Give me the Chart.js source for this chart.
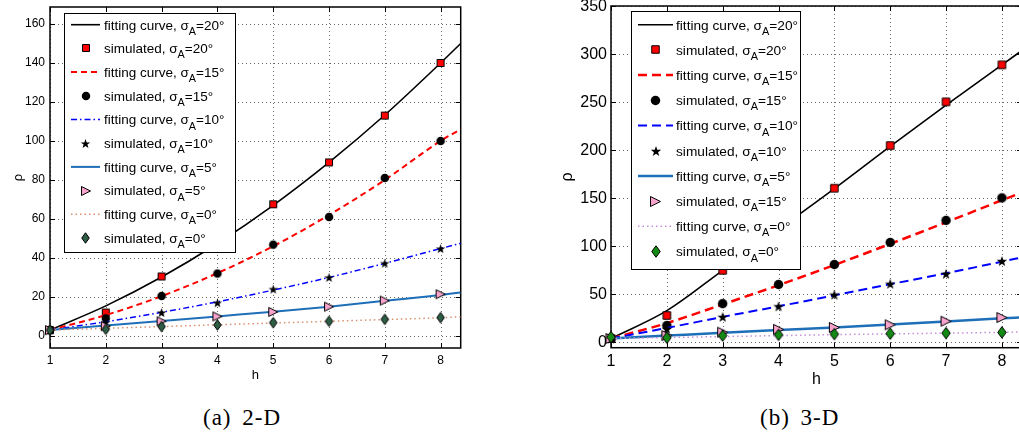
<!DOCTYPE html>
<html>
<head>
<meta charset="utf-8">
<script src="https://cdn.jsdelivr.net/npm/chart.js@4.4.1/dist/chart.umd.min.js"></script>
<style>
  html, body { margin: 0; padding: 0; background: #fff; width: 1019px; height: 442px; overflow: hidden; }
  canvas { position: absolute; top: 0; }
  #chart2d { left: 0; }
  #chart3d { left: 530px; }
  .caption { position: absolute; top: 406px; font-family: "Liberation Serif", serif; font-size: 23px;
             line-height: 23px; letter-spacing: 1px; word-spacing: 4px; color: #000; white-space: nowrap; }
</style>
</head>
<body>
<canvas id="chart2d" width="480" height="390"></canvas>
<canvas id="chart3d" width="520" height="390"></canvas>
<div class="caption" style="left:203px">(a) 2-D</div>
<div class="caption" style="left:760px">(b) 3-D</div>
<script>
// ---- shared axes ----
const hSim = [1, 2, 3, 4, 5, 6, 7, 8];
const hFit = [1, 2, 3, 4, 5, 6, 7, 8, 8.36];
const xTicks = [1, 2, 3, 4, 5, 6, 7, 8];
const yTicks2D = [0, 20, 40, 60, 80, 100, 120, 140, 160];
const yTicks3D = [0, 50, 100, 150, 200, 250, 300, 350];

// legend texts (right panel really says 15° for the triangles)
const legendPrefix = ['fitting curve, σ', 'simulated, σ'];
const angles2D = ['20°', '20°', '15°', '15°', '10°', '10°', '5°', '5°', '0°', '0°'];
const angles3D = ['20°', '20°', '15°', '15°', '10°', '10°', '5°', '15°', '0°', '0°'];

// ---- (a) 2-D ----
const fit2D_20 = [3, 15.4, 30.2, 47.4, 67, 89, 113.3, 140, 150];
const sim2D_20 = [3, 12, 30.5, 47, 67.5, 89, 113, 140];
const fit2D_15 = [3, 10.7, 20.4, 32.2, 46, 62, 80, 100, 106];
const sim2D_15 = [3, 9, 20.5, 32, 46.8, 61, 81, 100];
const fit2D_10 = [3, 7.3, 12.1, 17.5, 23.5, 30, 37.2, 44.8, 47.5];
const sim2D_10 = [3, 7, 12, 17, 24, 30, 37.3, 44.8];
const fit2D_5 = [3, 5.3, 7.6, 10, 12.4, 15, 18, 21, 22.3];
const sim2D_5 = [3, 5, 7.5, 10, 12.3, 15, 18.1, 21.4];
const fit2D_0 = [3, 3.9, 4.8, 5.7, 6.6, 7.5, 8.4, 9.3, 9.8];
const sim2D_0 = [3, 3.4, 4.8, 5.6, 6.8, 7.5, 8.5, 9.4];

// ---- (b) 3-D ----
const fit3D_20 = [4, 33, 75, 117.5, 160, 204, 247, 289, 304];
const sim3D_20 = [4, 28, 75, 118, 160.5, 205, 250.5, 289];
const fit3D_15 = [4, 20, 39.5, 59.5, 80.5, 102.5, 125, 148, 156];
const sim3D_15 = [4, 17.5, 40.3, 60.2, 81, 104, 127, 150.4];
const fit3D_10 = [4, 15, 26.5, 37.5, 49, 60.5, 72, 84, 88.5];
const sim3D_10 = [4, 14, 26.5, 37.5, 49.6, 61, 71.3, 84.7];
const fit3D_5 = [4, 7, 10, 12.8, 15.5, 18.5, 21.8, 25, 26];
const sim3D_5 = [4, 7, 10.5, 13.5, 15.5, 18.3, 22, 25.8];
const fit3D_0 = [4, 5, 6, 7, 8, 8.8, 9.6, 10.4, 10.8];
const sim3D_0 = [5.5, 4.8, 7, 7.8, 8.6, 9, 9.6, 10.3];

// small canvases used as point styles (filled star / diamond etc.)
function makeMarker(kind, w, h, fill, stroke) {
  const c = document.createElement('canvas');
  c.width = Math.ceil(w) + 3;
  c.height = Math.ceil(h) + 3;
  const g = c.getContext('2d');
  const cx = c.width / 2, cy = c.height / 2;
  g.beginPath();
  if (kind === 'square') {
    g.rect(cx - w / 2, cy - h / 2, w, h);
  } else if (kind === 'circle') {
    g.arc(cx, cy, w / 2, 0, Math.PI * 2);
  } else if (kind === 'diamond') {
    g.moveTo(cx, cy - h / 2); g.lineTo(cx + w / 2, cy); g.lineTo(cx, cy + h / 2); g.lineTo(cx - w / 2, cy);
    g.closePath();
  } else if (kind === 'triangle') {
    g.moveTo(cx + w / 2, cy); g.lineTo(cx - w / 2, cy - h / 2); g.lineTo(cx - w / 2, cy + h / 2);
    g.closePath();
  } else if (kind === 'star') {
    for (let i = 0; i < 10; i++) {
      const r = i % 2 ? w / 2 * 0.4 : w / 2;
      const a = -Math.PI / 2 + i * Math.PI / 5;
      const px = cx + r * Math.cos(a), py = cy + 0.5 + r * Math.sin(a);
      if (i) g.lineTo(px, py); else g.moveTo(px, py);
    }
    g.closePath();
  }
  g.fillStyle = fill;
  g.fill();
  if (stroke) { g.lineWidth = 1; g.strokeStyle = stroke; g.stroke(); }
  return c;
}

function curve(ys, color, width, dash, order) {
  return {
    data: hFit.map((h, i) => ({ x: h, y: ys[i] })),
    showLine: true,
    borderColor: color,
    borderWidth: width,
    borderDash: dash,
    pointRadius: 0,
    cubicInterpolationMode: 'monotone',
    order: order
  };
}

function markers(ys, img, order) {
  return {
    data: hSim.map((h, i) => ({ x: h, y: ys[i] })),
    showLine: false,
    pointStyle: img,
    pointRadius: 5,
    clip: false,
    order: order
  };
}

// MATLAB-look: dotted grid, boxed frame with inward ticks, axis titles, boxed legend
const matlabAxes = {
  id: 'matlabAxes',
  beforeDatasetsDraw(chart, args, opts) {
    const { ctx, chartArea: a, scales: { x, y } } = chart;
    ctx.save();
    ctx.strokeStyle = 'rgba(0,0,0,0.6)';
    ctx.lineWidth = 1;
    ctx.setLineDash([1, 3]);
    x.ticks.forEach(t => {
      const px = Math.round(x.getPixelForValue(t.value)) + 0.5;
      ctx.beginPath(); ctx.moveTo(px, a.top); ctx.lineTo(px, a.bottom); ctx.stroke();
    });
    y.ticks.forEach(t => {
      const py = Math.round(y.getPixelForValue(t.value)) + 0.5;
      ctx.beginPath(); ctx.moveTo(a.left, py); ctx.lineTo(a.right, py); ctx.stroke();
    });
    ctx.setLineDash([]);
    ctx.strokeStyle = '#000';
    ctx.lineWidth = 1;
    const tl = opts.tickLen;
    x.ticks.forEach(t => {
      const px = Math.round(x.getPixelForValue(t.value)) + 0.5;
      ctx.beginPath();
      ctx.moveTo(px, a.bottom); ctx.lineTo(px, a.bottom - tl);
      ctx.moveTo(px, a.top); ctx.lineTo(px, a.top + tl);
      ctx.stroke();
    });
    y.ticks.forEach(t => {
      const py = Math.round(y.getPixelForValue(t.value)) + 0.5;
      ctx.beginPath();
      ctx.moveTo(a.left, py); ctx.lineTo(a.left + tl, py);
      ctx.moveTo(a.right, py); ctx.lineTo(a.right - tl, py);
      ctx.stroke();
    });
    ctx.lineWidth = opts.frame;
    ctx.strokeRect(a.left, a.top, a.right - a.left, a.bottom - a.top);
    ctx.restore();
  },
  afterDraw(chart, args, opts) {
    const { ctx, chartArea: a } = chart;
    ctx.save();
    ctx.fillStyle = '#000';
    ctx.textAlign = 'center';
    ctx.textBaseline = 'middle';
    ctx.font = opts.titleSize + 'px "Liberation Sans", Arial, sans-serif';
    ctx.fillText('h', (a.left + a.right) / 2, opts.xTitleY);
    ctx.translate(opts.yTitleX, (a.top + a.bottom) / 2);
    ctx.rotate(-Math.PI / 2);
    ctx.fillText('ρ', 0, 0);
    ctx.restore();

    const lg = opts.legend;
    ctx.save();
    ctx.fillStyle = '#fff';
    ctx.fillRect(lg.x0, lg.y0, lg.x1 - lg.x0, lg.y1 - lg.y0);
    ctx.strokeStyle = '#000';
    ctx.lineWidth = 1;
    ctx.strokeRect(lg.x0 + 0.5, lg.y0 + 0.5, lg.x1 - lg.x0, lg.y1 - lg.y0);
    const mid = (lg.lineX0 + lg.lineX1) / 2;
    chart.data.datasets.forEach((ds, i) => {
      const yy = lg.rowY0 + i * lg.rowStep;
      if (ds.showLine) {
        ctx.strokeStyle = ds.borderColor;
        ctx.lineWidth = ds.borderWidth;
        ctx.setLineDash(ds.borderDash);
        ctx.beginPath(); ctx.moveTo(lg.lineX0, yy); ctx.lineTo(lg.lineX1, yy); ctx.stroke();
        ctx.setLineDash([]);
      } else {
        const img = ds.pointStyle;
        ctx.drawImage(img, Math.round(mid - img.width / 2), Math.round(yy - img.height / 2));
      }
      ctx.fillStyle = '#000';
      ctx.textAlign = 'left';
      ctx.textBaseline = 'alphabetic';
      const pre = legendPrefix[i % 2];
      let tx = lg.textX;
      ctx.font = lg.size + 'px "Liberation Sans", Arial, sans-serif';
      ctx.fillText(pre, tx, yy + 4.8);
      tx += ctx.measureText(pre).width;
      ctx.font = (lg.size * 0.8) + 'px "Liberation Sans", Arial, sans-serif';
      ctx.fillText('A', tx, yy + 10);
      tx += ctx.measureText('A').width;
      ctx.font = lg.size + 'px "Liberation Sans", Arial, sans-serif';
      ctx.fillText('=' + lg.angles[i], tx, yy + 4.8);
    });
    ctx.restore();
  }
};

function scales(yMin, yMax, yTicks, yWidth, xHeight, tickSize, tickPad) {
  const tickFont = { family: '"Liberation Sans", Arial, sans-serif', size: tickSize };
  return {
    x: {
      type: 'linear', min: 1, max: 8.36,
      afterBuildTicks: s => { s.ticks = xTicks.map(v => ({ value: v })); },
      afterFit: s => { s.height = xHeight; s.paddingLeft = 0; s.paddingRight = 0; },
      ticks: { font: tickFont, color: '#000', padding: tickPad, maxRotation: 0, autoSkip: false },
      grid: { display: false, drawTicks: false }, border: { display: false }
    },
    y: {
      type: 'linear', min: yMin, max: yMax,
      afterBuildTicks: s => { s.ticks = yTicks.map(v => ({ value: v })); },
      afterFit: s => { s.width = yWidth; s.paddingTop = 0; s.paddingBottom = 0; },
      ticks: { font: tickFont, color: '#000', padding: tickPad, autoSkip: false },
      grid: { display: false, drawTicks: false }, border: { display: false }
    }
  };
}

// ---- chart (a) ----
const mk2D = {
  sq: makeMarker('square', 7, 7, '#ff0000', '#000'),
  ci: makeMarker('circle', 8.5, 8.5, '#000', null),
  st: makeMarker('star', 10, 10, '#000', null),
  tr: makeMarker('triangle', 9, 9, '#f7a3cc', '#000'),
  di: makeMarker('diamond', 7.5, 10.5, '#2d5e45', '#000')
};

new Chart(document.getElementById('chart2d'), {
  type: 'scatter',
  data: {
    datasets: [
      curve(fit2D_20, '#000000', 1.6, [], 10),
      markers(sim2D_20, mk2D.sq, 9),
      curve(fit2D_15, '#ff0000', 2, [6, 4], 8),
      markers(sim2D_15, mk2D.ci, 7),
      curve(fit2D_10, '#0000ff', 1.5, [6, 3, 1.5, 3], 6),
      markers(sim2D_10, mk2D.st, 5),
      curve(fit2D_5, '#1f6fb8', 2, [], 4),
      markers(sim2D_5, mk2D.tr, 3),
      curve(fit2D_0, '#d98f6c', 1.5, [1.5, 3], 2),
      markers(sim2D_0, mk2D.di, 1)
    ]
  },
  options: {
    responsive: false,
    animation: false,
    events: [],
    layout: { padding: { left: 0, top: 7, right: 19.3, bottom: 0 } },
    scales: scales(-6.2, 168.7, yTicks2D, 50, 42, 12, 5),
    plugins: {
      legend: { display: false },
      tooltip: { enabled: false },
      matlabAxes: {
        tickLen: 5, frame: 1.5, titleSize: 13, xTitleY: 375, yTitleX: 18,
        legend: { x0: 64, y0: 13, x1: 235, y1: 252, rowY0: 24.7, rowStep: 23.7,
                  lineX0: 71, lineX1: 100, textX: 104, size: 13.5, angles: angles2D }
      }
    }
  },
  plugins: [matlabAxes]
});

// ---- chart (b) ----
const mk3D = {
  sq: makeMarker('square', 7.5, 7.5, '#ff0000', '#000'),
  ci: makeMarker('circle', 9.5, 9.5, '#000', null),
  st: makeMarker('star', 11, 11, '#000', null),
  tr: makeMarker('triangle', 10, 10, '#f7a3cc', '#000'),
  di: makeMarker('diamond', 8.5, 11.5, '#138a13', '#000')
};

new Chart(document.getElementById('chart3d'), {
  type: 'scatter',
  data: {
    datasets: [
      curve(fit3D_20, '#000000', 1.6, [], 10),
      markers(sim3D_20, mk3D.sq, 9),
      curve(fit3D_15, '#ff0000', 2.5, [9, 5], 8),
      markers(sim3D_15, mk3D.ci, 7),
      curve(fit3D_10, '#0000ff', 2, [9, 5], 6),
      markers(sim3D_10, mk3D.st, 5),
      curve(fit3D_5, '#1f6fb8', 2.5, [], 4),
      markers(sim3D_5, mk3D.tr, 3),
      curve(fit3D_0, '#c48fd8', 1.5, [1.5, 3], 2),
      markers(sim3D_0, mk3D.di, 1)
    ]
  },
  options: {
    responsive: false,
    animation: false,
    events: [],
    layout: { padding: { left: 0, top: 2, right: 28, bottom: 0 } },
    scales: scales(-5.6, 350.3, yTicks3D, 81, 42.3, 16, 4),
    plugins: {
      legend: { display: false },
      tooltip: { enabled: false },
      matlabAxes: {
        tickLen: 5, frame: 1.5, titleSize: 16, xTitleY: 380, yTitleX: 38,
        legend: { x0: 101, y0: 11, x1: 270, y1: 269, rowY0: 24.7, rowStep: 25.2,
                  lineX0: 108, lineX1: 143, textX: 146, size: 13.7, angles: angles3D }
      }
    }
  },
  plugins: [matlabAxes]
});
</script>
</body>
</html>
